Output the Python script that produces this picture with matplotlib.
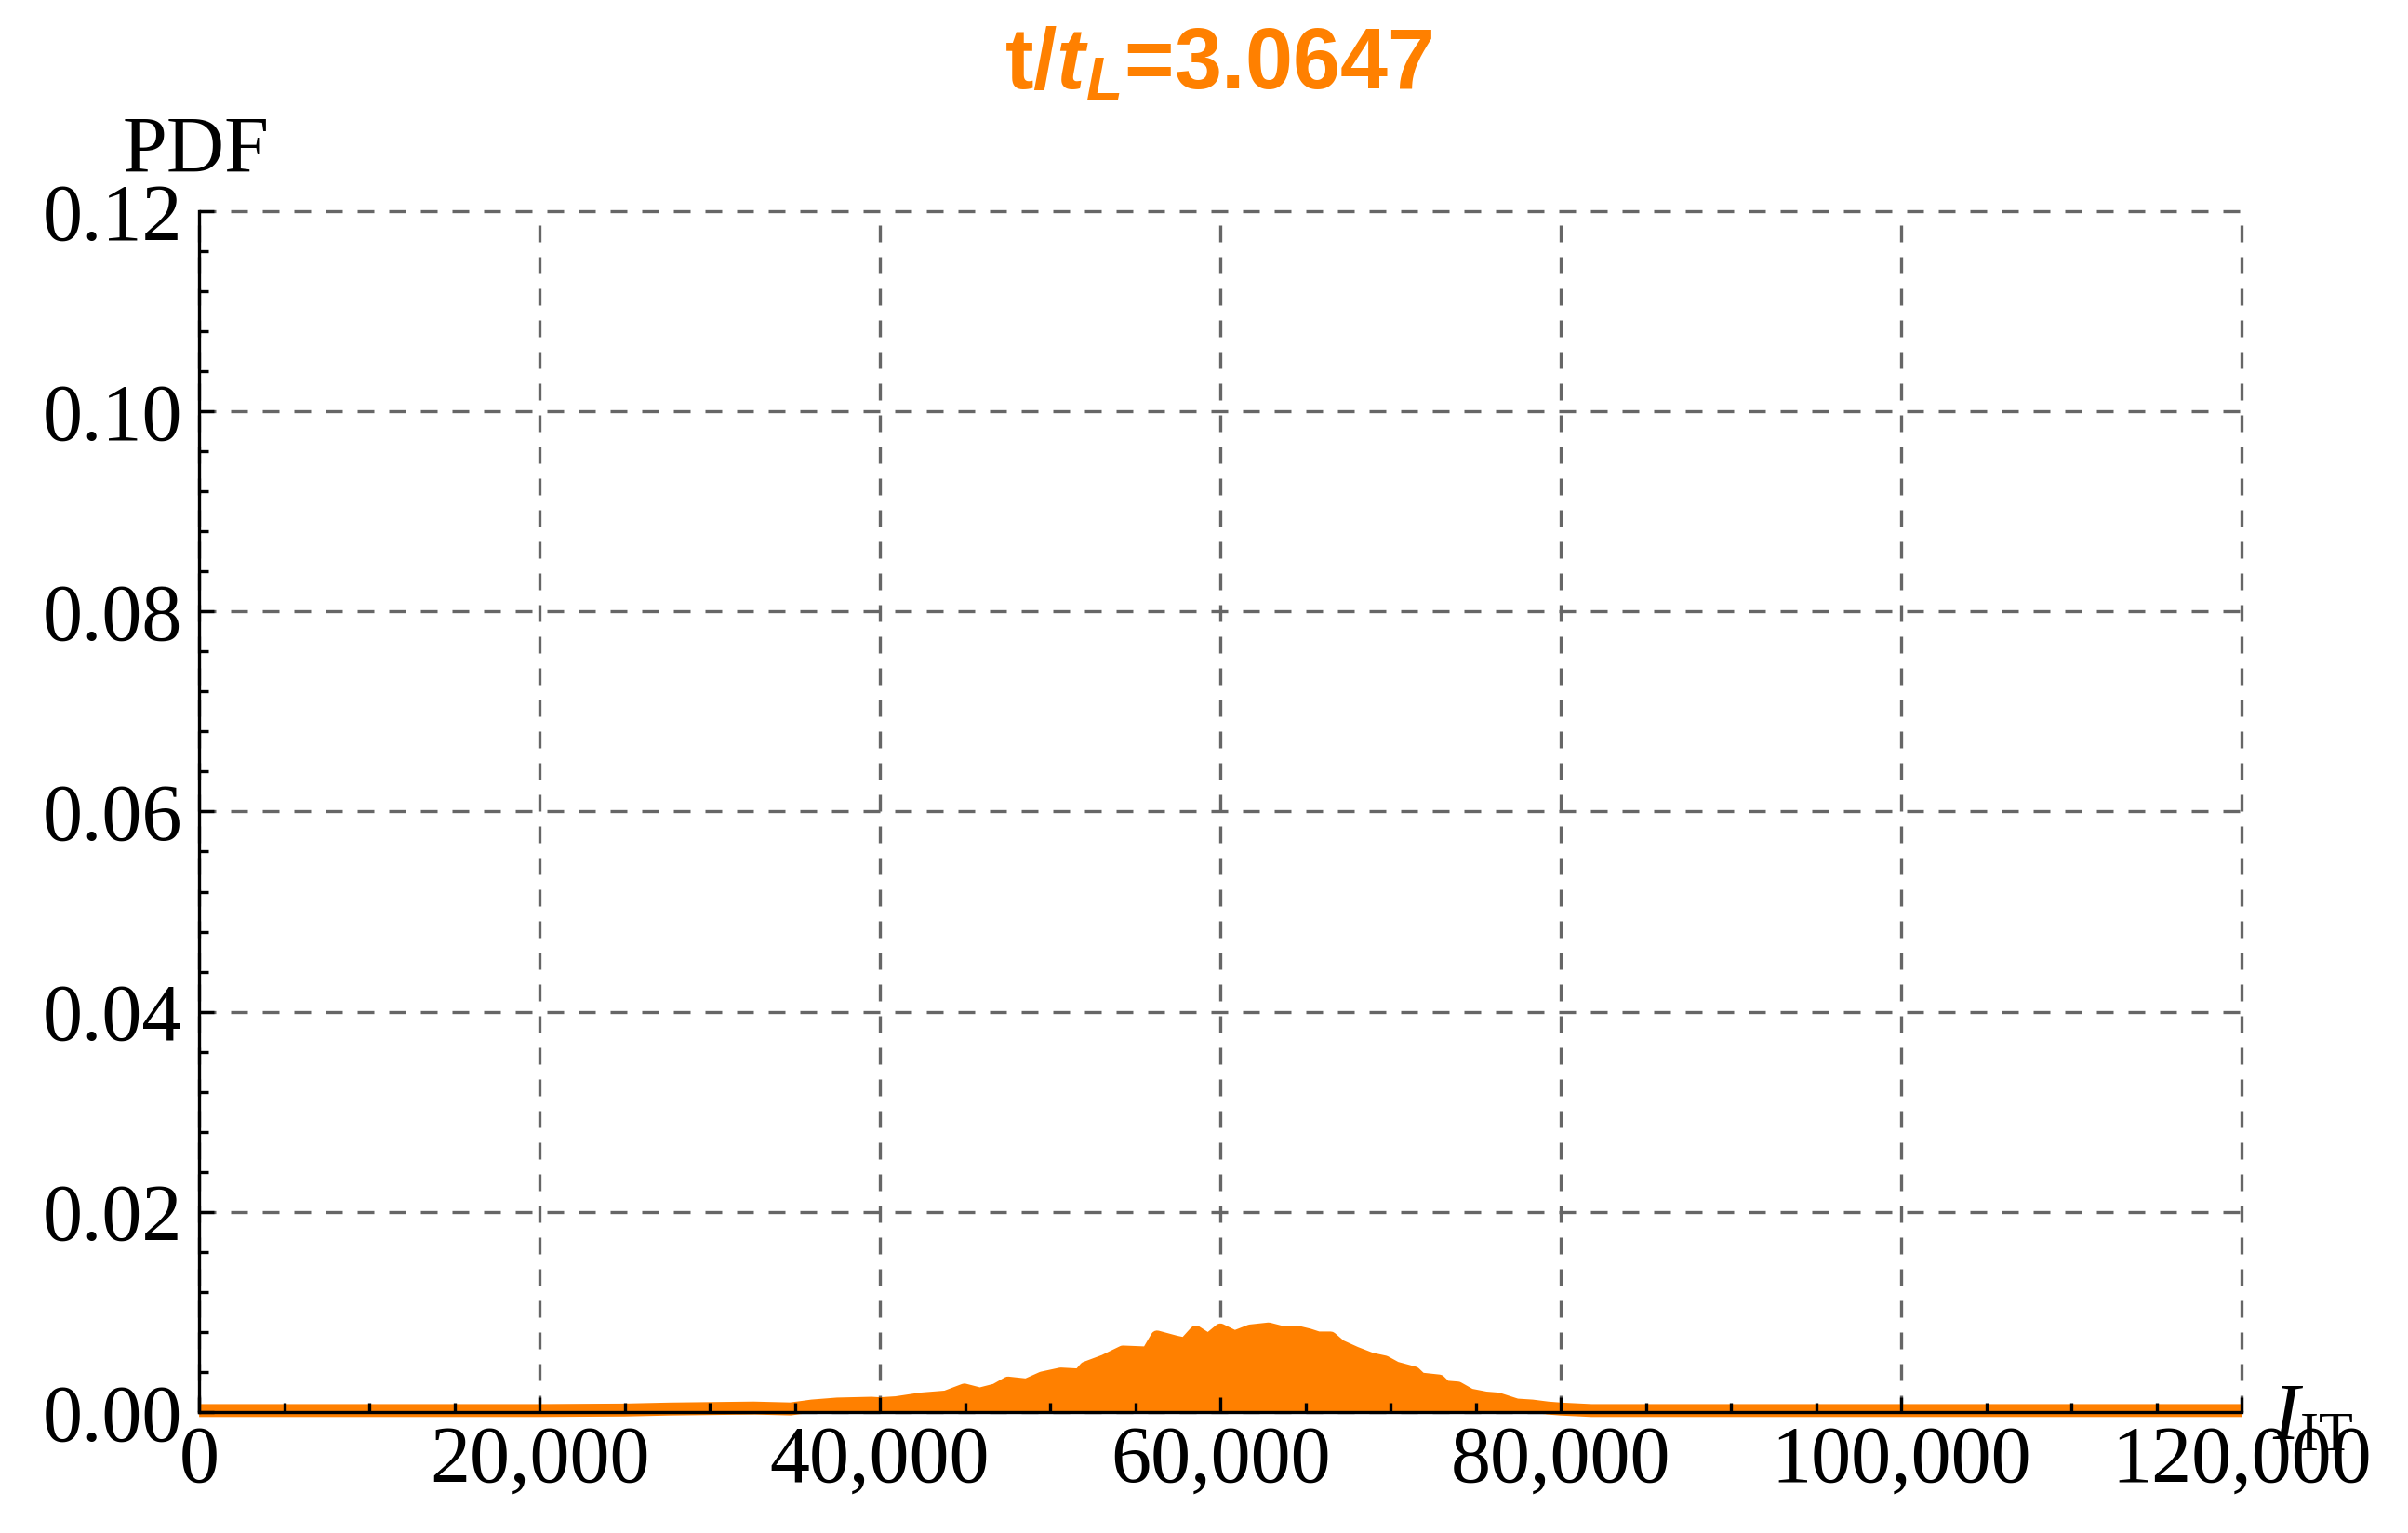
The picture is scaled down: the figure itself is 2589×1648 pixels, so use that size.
import numpy as np
import matplotlib.pyplot as plt

plt.rcParams['font.family'] = ['Liberation Serif', 'DejaVu Serif']
plt.rcParams['mathtext.fontset'] = 'custom'
plt.rcParams['mathtext.rm'] = 'Liberation Serif'
plt.rcParams['mathtext.it'] = 'Liberation Serif:italic'
plt.rcParams['mathtext.bf'] = 'Liberation Sans:bold'
plt.rcParams['mathtext.bfit'] = 'Liberation Sans:bold:italic'

# values
i_it = [0, 20000, 25000, 27650, 32570, 34745, 36000, 37490, 39500, 40000,
        40950, 42400, 43870, 44960, 45870, 46790, 47520, 48610, 49530, 50620,
        51720, 52080, 53180, 54270, 55730, 56280, 57370, 57920, 58560, 59290,
        60000, 60840, 61750, 62840, 63750, 64480, 65210, 65750, 66480, 67030,
        67940, 68850, 69670, 70310, 71400, 71770, 72860, 73220, 73950, 74680,
        75590, 76320, 77410, 78320, 79240, 80000, 81800, 120000]
pdf = [0.00015, 0.00015, 0.0002, 0.0003, 0.0004, 0.00031, 0.0006, 0.0008, 0.00088, 0.00083,
       0.00093, 0.0013, 0.0015, 0.0022, 0.0018, 0.0022, 0.0029, 0.0027, 0.0034, 0.0038,
       0.0037, 0.0044, 0.0051, 0.0060, 0.0059, 0.0075, 0.0070, 0.0068, 0.0080, 0.0072,
       0.0082, 0.0075, 0.0081, 0.0083, 0.0079, 0.0080, 0.0077, 0.0074, 0.0074, 0.0066,
       0.0059, 0.0053, 0.0050, 0.0044, 0.0039, 0.0033, 0.0031, 0.0025, 0.0024, 0.0017,
       0.0014, 0.0013, 0.0007, 0.0006, 0.0004, 0.0003, 0.00015, 0.00015]

x_ticks = [0, 20000, 40000, 60000, 80000, 100000, 120000]
x_labels = ["0", "20,000", "40,000", "60,000", "80,000", "100,000", "120,000"]
y_ticks = [0.0, 0.02, 0.04, 0.06, 0.08, 0.10, 0.12]
y_labels = ["0.00", "0.02", "0.04", "0.06", "0.08", "0.10", "0.12"]

orange = "#ff8000"

fig = plt.figure(figsize=(25.89, 16.48), dpi=100)
ax = fig.add_axes([0.0827, 0.0789, 0.9309 - 0.0827, 0.8623 - 0.0789])

# dashed grid, drawn under the data
for v in y_ticks:
    ax.axhline(v, color="#666666", lw=2.4, dashes=(5.4, 4.8), zorder=0.5, clip_on=False)
for v in x_ticks:
    ax.axvline(v, color="#666666", lw=2.4, dashes=(5.4, 4.8), zorder=0.5, clip_on=False)

ax.fill_between(i_it, 0, pdf, color=orange, lw=0, zorder=1)
ax.plot(i_it, pdf, color=orange, lw=10, solid_capstyle="butt",
        solid_joinstyle="round", clip_on=False, zorder=1.2)

ax.set_xlim(0, 120000)
ax.set_ylim(0, 0.12)
ax.spines["top"].set_visible(False)
ax.spines["right"].set_visible(False)
for s in ["left", "bottom"]:
    ax.spines[s].set_linewidth(2.4)
    ax.spines[s].set_zorder(3)

ax.set_xticks(x_ticks)
ax.set_xticklabels(x_labels)
ax.set_yticks(y_ticks)
ax.set_yticklabels(y_labels)
ax.set_xticks(np.arange(0, 120001, 5000), minor=True)
ax.set_yticks(np.arange(0, 0.12001, 0.004), minor=True)
ax.tick_params(which="both", direction="in", top=False, right=False, width=2.4, labelsize=62)
ax.tick_params(which="major", length=11.5)
ax.tick_params(which="minor", length=7)
ax.tick_params(axis="x", which="major", pad=10)
ax.tick_params(axis="y", which="major", pad=13)
ax.xaxis.set_zorder(3)
ax.yaxis.set_zorder(3)

ax.text(121800, -0.0027, r"$I_{\rm IT}$", fontsize=62, ha="left", va="baseline", clip_on=False)
fig.text(132 / 2589, 1 - 185 / 1648, "PDF", fontsize=62, ha="left", va="baseline")
fig.text(0.506, 1 - 95 / 1648, r"$\mathbf{t/}\mathbfit{t}_{\mathbfit{L}}$=3.0647",
         fontsize=66, color=orange, ha="center", va="baseline",
         family="Liberation Sans", weight="bold")

fig.savefig("out.png", dpi=100)
